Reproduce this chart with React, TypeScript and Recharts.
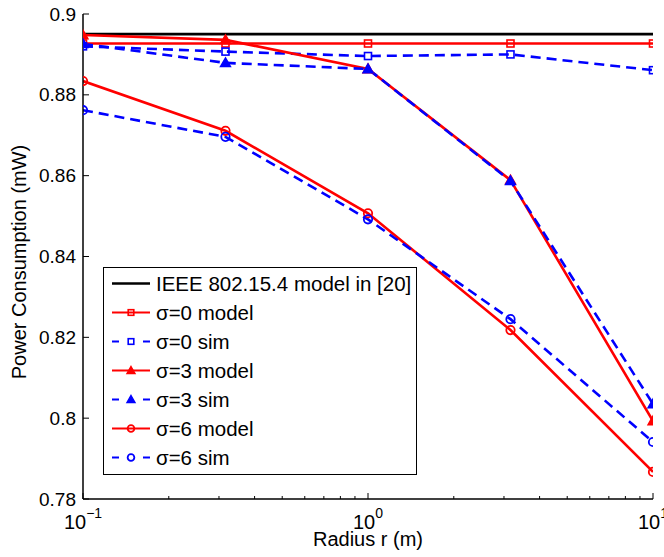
import { Line, LineChart, XAxis, YAxis } from 'recharts'

const radius = [0.1, 0.3162, 1, 3.162, 10]
const ieeeModel = [0.895, 0.895, 0.895, 0.895, 0.895]
const sigma0Model = [0.8927, 0.8927, 0.8927, 0.8927, 0.8927]
const sigma0Sim = [0.892, 0.8907, 0.8896, 0.89, 0.8861]
const sigma3Model = [0.8948, 0.8936, 0.8864, 0.8589, 0.7993]
const sigma3Sim = [0.8926, 0.8879, 0.8864, 0.8587, 0.8035]
const sigma6Model = [0.8834, 0.8711, 0.8507, 0.8218, 0.7867]
const sigma6Sim = [0.8762, 0.8696, 0.8492, 0.8245, 0.7941]

const xMajorTicks = [0.1, 1, 10]
const xExponents = ['\u22121', '0', '1']
const xTicks = [0.1, 0.2, 0.3, 0.4, 0.5, 0.6, 0.7, 0.8, 0.9, 1, 2, 3, 4, 5, 6, 7, 8, 9, 10]
const yTicks = [0.78, 0.8, 0.82, 0.84, 0.86, 0.88, 0.9]

const data = radius.map((r, i) => ({
  r,
  ieee: ieeeModel[i],
  s0m: sigma0Model[i],
  s0s: sigma0Sim[i],
  s3m: sigma3Model[i],
  s3s: sigma3Sim[i],
  s6m: sigma6Model[i],
  s6s: sigma6Sim[i],
}))

const FONT = '"Liberation Sans", Arial, Helvetica, sans-serif'
const RED = '#ff0000'
const BLUE = '#0000ff'

type MarkerKind = 'none' | 'square' | 'triangle' | 'circle'

function Marker({ kind, cx, cy, color, scale = 1 }: { kind: MarkerKind; cx: number; cy: number; color: string; scale?: number }) {
  if (kind === 'square') {
    const s = 3.5 * scale
    return <rect x={cx - s} y={cy - s} width={2 * s} height={2 * s} fill="none" stroke={color} strokeWidth={1.6} />
  }
  if (kind === 'triangle') {
    const s = 5 * scale
    return (
      <polygon
        points={`${cx},${cy - s} ${cx + s},${cy + s * 0.75} ${cx - s},${cy + s * 0.75}`}
        fill={color}
        stroke={color}
        strokeWidth={1.4}
      />
    )
  }
  if (kind === 'circle') {
    return <circle cx={cx} cy={cy} r={4.2 * scale} fill="none" stroke={color} strokeWidth={1.8} />
  }
  return null
}

const makeDot = (kind: MarkerKind, color: string) => (props: any) => (
  <Marker key={props.index} kind={kind} cx={props.cx} cy={props.cy} color={color} />
)

const legendItems: { label: string; color: string; dashed: boolean; marker: MarkerKind }[] = [
  { label: 'IEEE 802.15.4 model in [20]', color: '#000000', dashed: false, marker: 'none' },
  { label: '\u03c3=0 model', color: RED, dashed: false, marker: 'square' },
  { label: '\u03c3=0 sim', color: BLUE, dashed: true, marker: 'square' },
  { label: '\u03c3=3 model', color: RED, dashed: false, marker: 'triangle' },
  { label: '\u03c3=3 sim', color: BLUE, dashed: true, marker: 'triangle' },
  { label: '\u03c3=6 model', color: RED, dashed: false, marker: 'circle' },
  { label: '\u03c3=6 sim', color: BLUE, dashed: true, marker: 'circle' },
]

function LegendBox() {
  return (
    <div
      style={{
        position: 'absolute',
        left: 103,
        top: 267,
        width: 312,
        height: 204,
        border: '1px solid #000',
        background: '#fff',
        padding: '1px 0',
        fontFamily: FONT,
        fontSize: 20.5,
        color: '#000',
      }}
    >
      {legendItems.map((item) => (
        <div key={item.label} style={{ display: 'flex', alignItems: 'center', height: 29 }}>
          <svg width={52} height={29} style={{ flex: 'none' }}>
            <line
              x1={8}
              x2={46}
              y1={14.5}
              y2={14.5}
              stroke={item.color}
              strokeWidth={item.marker === 'none' ? 2.5 : 2.2}
              strokeDasharray={item.dashed ? '7 24' : undefined}
            />
            <Marker kind={item.marker} cx={27} cy={14.5} color={item.color} scale={0.8} />
          </svg>
          <span style={{ whiteSpace: 'nowrap', lineHeight: '29px' }}>{item.label}</span>
        </div>
      ))}
    </div>
  )
}

function BottomTick(props: any) {
  const { x, y, payload } = props
  const idx = xMajorTicks.indexOf(payload.value)
  const major = idx >= 0
  return (
    <g>
      <line x1={x} x2={x} y1={y} y2={y - (major ? 6 : 3)} stroke="#000" strokeWidth={1} />
      {major && (
        <text x={x} y={y + 30} textAnchor="middle" fontFamily={FONT} fontSize={20} fill="#000">
          10
          <tspan dy={-11} fontSize={14}>
            {xExponents[idx]}
          </tspan>
        </text>
      )}
    </g>
  )
}

function TopTick(props: any) {
  const { x, y, payload } = props
  const major = xMajorTicks.includes(payload.value)
  return <line x1={x} x2={x} y1={y} y2={y + (major ? 6 : 3)} stroke="#000" strokeWidth={1} />
}

function LeftTick(props: any) {
  const { x, y, payload } = props
  return (
    <g>
      <line x1={x} x2={x + 6} y1={y} y2={y} stroke="#000" strokeWidth={1} />
      <text x={x - 7} y={y} textAnchor="end" dominantBaseline="central" fontFamily={FONT} fontSize={19} fill="#000">
        {Number(payload.value.toFixed(2)).toString()}
      </text>
    </g>
  )
}

function RightTick(props: any) {
  const { x, y } = props
  return <line x1={x} x2={x - 6} y1={y} y2={y} stroke="#000" strokeWidth={1} />
}

const axisLine = { stroke: '#000', strokeWidth: 1.5 }

export default function App() {
  return (
    <div style={{ position: 'absolute', left: 0, top: 0, width: 664, height: 557, background: '#fff' }}>
      <LineChart width={664} height={557} data={data} margin={{ top: 14, right: 11, bottom: 0, left: 0 }}>
        <XAxis
          dataKey="r"
          type="number"
          scale="log"
          domain={[0.1, 10]}
          ticks={xTicks}
          interval={0}
          allowDataOverflow
          height={58}
          tickSize={0}
          tickMargin={0}
          tickLine={false}
          axisLine={axisLine}
          tick={<BottomTick />}
        />
        <XAxis
          xAxisId="top"
          dataKey="r"
          type="number"
          scale="log"
          orientation="top"
          domain={[0.1, 10]}
          ticks={xTicks}
          interval={0}
          allowDataOverflow
          height={0}
          tickSize={0}
          tickMargin={0}
          tickLine={false}
          axisLine={axisLine}
          tick={<TopTick />}
        />
        <YAxis
          type="number"
          domain={[0.78, 0.9]}
          ticks={yTicks}
          interval={0}
          allowDataOverflow
          width={83}
          tickSize={0}
          tickMargin={0}
          tickLine={false}
          axisLine={axisLine}
          tick={<LeftTick />}
        />
        <YAxis
          yAxisId="right"
          orientation="right"
          type="number"
          domain={[0.78, 0.9]}
          ticks={yTicks}
          interval={0}
          allowDataOverflow
          width={0}
          tickSize={0}
          tickMargin={0}
          tickLine={false}
          axisLine={axisLine}
          tick={<RightTick />}
        />
        <Line dataKey="ieee" stroke="#000" strokeWidth={2.8} dot={false} activeDot={false} isAnimationActive={false} />
        <Line dataKey="s0m" stroke={RED} strokeWidth={2.6} dot={makeDot('square', RED)} activeDot={false} isAnimationActive={false} />
        <Line dataKey="s0s" stroke={BLUE} strokeWidth={2.6} strokeDasharray="10 6" dot={makeDot('square', BLUE)} activeDot={false} isAnimationActive={false} />
        <Line dataKey="s3m" stroke={RED} strokeWidth={2.6} dot={makeDot('triangle', RED)} activeDot={false} isAnimationActive={false} />
        <Line dataKey="s3s" stroke={BLUE} strokeWidth={2.6} strokeDasharray="10 6" dot={makeDot('triangle', BLUE)} activeDot={false} isAnimationActive={false} />
        <Line dataKey="s6m" stroke={RED} strokeWidth={2.6} dot={makeDot('circle', RED)} activeDot={false} isAnimationActive={false} />
        <Line dataKey="s6s" stroke={BLUE} strokeWidth={2.6} strokeDasharray="10 6" dot={makeDot('circle', BLUE)} activeDot={false} isAnimationActive={false} />
      </LineChart>
      <svg width={664} height={557} style={{ position: 'absolute', left: 0, top: 0, pointerEvents: 'none' }}>
        <text
          transform="translate(19, 262) rotate(-90)"
          textAnchor="middle"
          dominantBaseline="central"
          fontFamily={FONT}
          fontSize={20}
          fill="#000"
        >
          Power Consumption (mW)
        </text>
        <text x={368} y={546} textAnchor="middle" fontFamily={FONT} fontSize={20} fill="#000">
          Radius r (m)
        </text>
      </svg>
      <LegendBox />
    </div>
  )
}
